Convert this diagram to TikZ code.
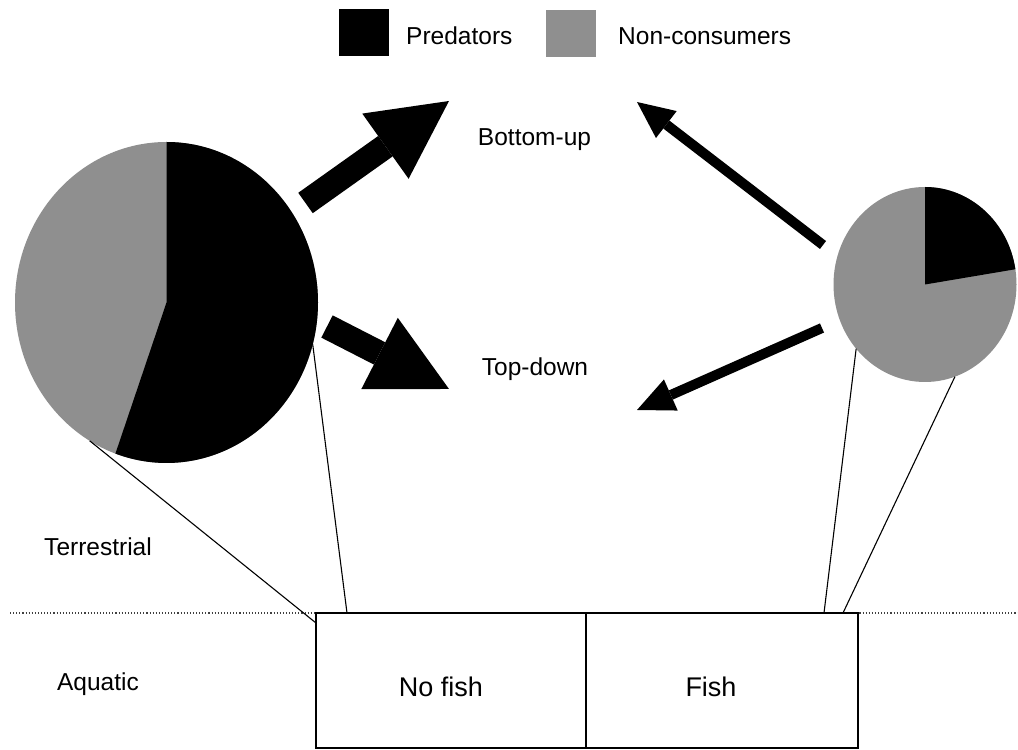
\documentclass[tikz,border=0pt]{standalone}
\usepackage{fontspec}
\setmainfont{Liberation Sans}
\usepackage{xcolor}
\usepackage{tikz}
\usetikzlibrary{positioning,arrows.meta,shapes.geometric}

\definecolor{nongrey}{gray}{0.56}

\begin{document}
\begin{tikzpicture}[
    x=1pt, y=1pt,
    lbl/.style={inner sep=0pt, font=\fontsize{24.5}{29}\selectfont},
    pondlbl/.style={inner sep=0pt, font=\fontsize{27}{32}\selectfont},
    swatch/.style={minimum width=50pt, minimum height=47pt, inner sep=0pt, outer sep=0pt},
    pie/.style={ellipse, fill=nongrey, inner sep=0pt, outer sep=0pt},
    pond/.style={draw, line width=1.4pt, fill=white, minimum height=135pt, inner sep=0pt, outer sep=0pt},
    fatarrow/.style={line width=25pt, -{Triangle[length=78pt, width=80pt, line width=0pt]}},
    slimarrow/.style={line width=10pt, -{Triangle[length=37pt, width=34pt, line width=0pt]}},
    link/.style={line width=1.1pt}
]
\useasboundingbox (0,0) rectangle (1018,750);

% legend
\node[swatch, fill=black] (predkey) at (364,717) {};
\node[lbl, anchor=base west] (predtxt) at (406,705) {Predators};
\node[swatch, fill=nongrey] (nonkey) at (571,716) {};
\node[lbl, anchor=base west] (nontxt) at (618,705) {Non-consumers};

% pies
\node[pie, minimum width=303pt, minimum height=321pt] (bigpie) at (166.5,447.5) {};
\fill (bigpie.center) -- (bigpie.north) arc[start angle=90, end angle=-109.7, x radius=151.5pt, y radius=160.5pt] -- cycle;
\node[pie, minimum width=183pt, minimum height=195pt] (smallpie) at (925,465.5) {};
\fill (smallpie.center) -- (smallpie.north) arc[start angle=90, end angle=9, x radius=91.5pt, y radius=97.5pt] -- cycle;

% labels
\node[lbl, anchor=base] (bottomup) at (534.5,604) {Bottom-up};
\node[lbl, anchor=base] (topdown) at (535,374) {Top-down};
\node[lbl, anchor=base] (terr) at (98,194) {Terrestrial};
\node[lbl, anchor=base] (aqua) at (98,59) {Aquatic};

% arrows
\coordinate (bigup) at (305.5,547);
\coordinate (bigupend) at (449,649);
\coordinate (bigdown) at (327,423.5);
\coordinate (bigdownend) at (449,361);
\coordinate (smallup) at (823,505);
\coordinate (smallupend) at (637,648);
\coordinate (smalldown) at (822,422);
\coordinate (smalldownend) at (637,340);
\draw[fatarrow] (bigup) -- (bigupend);
\draw[fatarrow] (bigdown) -- (bigdownend);
\draw[slimarrow] (smallup) -- (smallupend);
\draw[slimarrow] (smalldown) -- (smalldownend);

% shore line
\coordinate (shorew) at (10,137);
\coordinate (shoree) at (1018,137);
\draw[dotted, line width=1.1pt, black!75] (shorew) -- (shoree);

% ponds
\node[pond, minimum width=270pt] (nofish) at (451,69.5) {};
\node[pond, minimum width=272pt, right=0pt of nofish] (fish) {};
\node[pondlbl, anchor=base] (nofishtxt) at (441,53) {No fish};
\node[pondlbl, anchor=base] (fishtxt) at (711,53) {Fish};

% links
\draw[link] (bigpie.241.9) -- ([yshift=-10pt]nofish.north west);
\draw[link] (bigpie.-16.9) -- ([xshift=31pt]nofish.north west);
\draw[link] (smallpie.223.5) -- ([xshift=-34pt]fish.north east);
\draw[link] (smallpie.-72.2) -- ([xshift=-15pt]fish.north east);
\end{tikzpicture}
\end{document}
